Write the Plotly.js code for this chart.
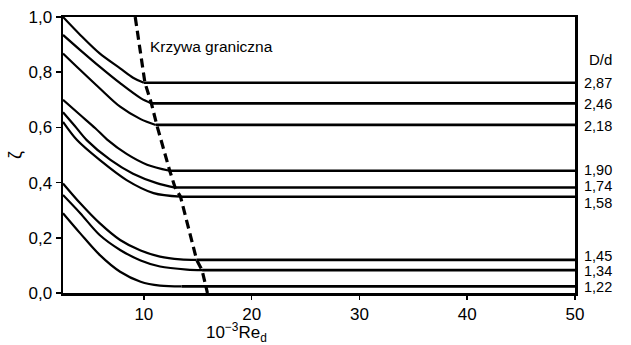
<!DOCTYPE html>
<html>
<head>
<meta charset="utf-8">
<script src="https://cdn.plot.ly/plotly-3.0.1.min.js"></script>
<style>html,body{margin:0;padding:0;background:#fff;}#chart{width:631px;height:345px;}</style>
</head>
<body>
<div id="chart"></div>
<script>
// D/d ratios (series labels)
const ratioLabels = ["2,87", "2,46", "2,18", "1,90", "1,74", "1,58", "1,45", "1,34", "1,22"];

// Curved (descending) part of each zeta vs 10^-3 Re_d curve, one per D/d;
// each curve stays constant from its last point up to xEnd.
const x287 = [2.5, 4.1, 5.9, 7.8, 9.0, 10.0];
const y287 = [1.0, 0.935, 0.868, 0.814, 0.780, 0.762];
const x246 = [2.5, 4.1, 5.9, 7.8, 9.7, 10.7];
const y246 = [0.935, 0.880, 0.820, 0.760, 0.706, 0.687];
const x218 = [2.5, 4.1, 5.9, 7.8, 9.7, 11.1];
const y218 = [0.868, 0.808, 0.742, 0.675, 0.630, 0.609];
const x190 = [2.5, 4.1, 5.5, 6.6, 8.4, 10.3, 12.4];
const y190 = [0.70, 0.645, 0.597, 0.556, 0.504, 0.465, 0.443];
const x174 = [2.5, 3.6, 4.7, 6.9, 9.0, 11.2, 12.9];
const y174 = [0.655, 0.605, 0.554, 0.482, 0.432, 0.398, 0.382];
const x158 = [2.5, 3.8, 5.9, 8.4, 10.9, 13.4];
const y158 = [0.62, 0.554, 0.482, 0.409, 0.362, 0.349];
const x145 = [2.5, 4.1, 5.9, 7.8, 9.7, 11.5, 13.4, 14.9];
const y145 = [0.397, 0.325, 0.253, 0.192, 0.154, 0.132, 0.122, 0.120];
const x134 = [2.5, 4.1, 5.9, 7.8, 9.7, 11.5, 14.0, 15.4];
const y134 = [0.355, 0.289, 0.210, 0.156, 0.118, 0.096, 0.085, 0.083];
const x122 = [2.5, 4.1, 5.9, 7.8, 9.7, 11.5, 13.5];
const y122 = [0.289, 0.216, 0.138, 0.077, 0.041, 0.027, 0.024];
const xEnd = 50;

// Boundary curve ("Krzywa graniczna")
const xBoundary = [9.2, 10.1, 10.7, 11.2, 12.4, 12.9, 13.4, 14.9, 15.4, 15.9];
const yBoundary = [1.0, 0.762, 0.687, 0.609, 0.443, 0.382, 0.349, 0.120, 0.083, 0.0];

// Right-hand label vertical positions (zeta)
const labelY = [0.762, 0.683, 0.605, 0.445, 0.388, 0.326, 0.134, 0.079, 0.020];

// Axis ticks
const xTicks = [10, 20, 30, 40, 50];
const yTicks = [0.0, 0.2, 0.4, 0.6, 0.8, 1.0];

const xs = [x287, x246, x218, x190, x174, x158, x145, x134, x122];
const ys = [y287, y246, y218, y190, y174, y158, y145, y134, y122];

const FONT = "Arial, 'Liberation Sans', sans-serif";
const traces = [];
xs.forEach((x, i) => {
  const y = ys[i];
  traces.push({
    x: x, y: y, type: "scatter", mode: "lines",
    line: {color: "#000", width: 2.2, shape: "spline", smoothing: 0.9},
    showlegend: false, hoverinfo: "skip"
  });
  const last = x.length - 1;
  traces.push({
    x: [x[last], xEnd], y: [y[last], y[last]], type: "scatter", mode: "lines",
    line: {color: "#000", width: 2.6},
    showlegend: false, hoverinfo: "skip"
  });
});
traces.push({
  x: xBoundary, y: yBoundary, type: "scatter", mode: "lines",
  line: {color: "#000", width: 3.2, dash: "9px,5px"},
  showlegend: false, hoverinfo: "skip"
});

const annotations = ratioLabels.map((t, i) => ({
  text: t, xref: "paper", x: 1, xanchor: "left", xshift: 8,
  yref: "y", y: labelY[i], yanchor: "middle", showarrow: false,
  borderpad: 0,
  font: {family: FONT, size: 14.5, color: "#000"}
}));
annotations.push({
  text: "D/d", xref: "paper", x: 1, xanchor: "left", xshift: 12,
  yref: "y", y: 0.846, yanchor: "middle", showarrow: false,
  font: {family: FONT, size: 15, color: "#000"}
});
annotations.push({
  text: "Krzywa graniczna", xref: "x", x: 10.4, xanchor: "left",
  yref: "y", y: 0.892, yanchor: "middle", showarrow: false,
  font: {family: FONT, size: 15.5, color: "#000"}
});
annotations.push({
  text: "10<sup>−3</sup>Re<sub>d</sub>", xref: "x", x: 18.6, xanchor: "center",
  yref: "paper", y: 0, yshift: -39, yanchor: "middle", showarrow: false,
  borderpad: 0,
  font: {family: FONT, size: 17, color: "#000"}
});
annotations.push({
  text: "ζ", xref: "paper", x: 0, xshift: -48, xanchor: "center",
  yref: "y", y: 0.5, yanchor: "middle", showarrow: false, textangle: -90,
  font: {family: FONT, size: 18, color: "#000"}
});

const layout = {
  width: 631, height: 345,
  margin: {l: 63, r: 56, t: 17, b: 52},
  paper_bgcolor: "#fff", plot_bgcolor: "#fff",
  separators: ", ",
  font: {family: FONT, color: "#000"},
  xaxis: {
    range: [2.5, 50], tickvals: xTicks, ticktext: xTicks.map(String),
    ticks: "outside", ticklen: 4, tickwidth: 1.5, tickcolor: "#000",
    showline: true, linecolor: "#000", linewidth: 2.5, mirror: true,
    showgrid: false, zeroline: false,
    tickfont: {family: FONT, size: 17, color: "#000"}
  },
  yaxis: {
    range: [0, 1], tickvals: yTicks, tickformat: ".1f",
    ticks: "outside", ticklen: 5, tickwidth: 1.5, tickcolor: "#000",
    showline: true, linecolor: "#000", linewidth: 2.5, mirror: true,
    showgrid: false, zeroline: false,
    tickfont: {family: FONT, size: 17, color: "#000"}
  },
  annotations: annotations,
  showlegend: false
};

Plotly.newPlot("chart", traces, layout, {displayModeBar: false, staticPlot: true});
</script>
</body>
</html>
